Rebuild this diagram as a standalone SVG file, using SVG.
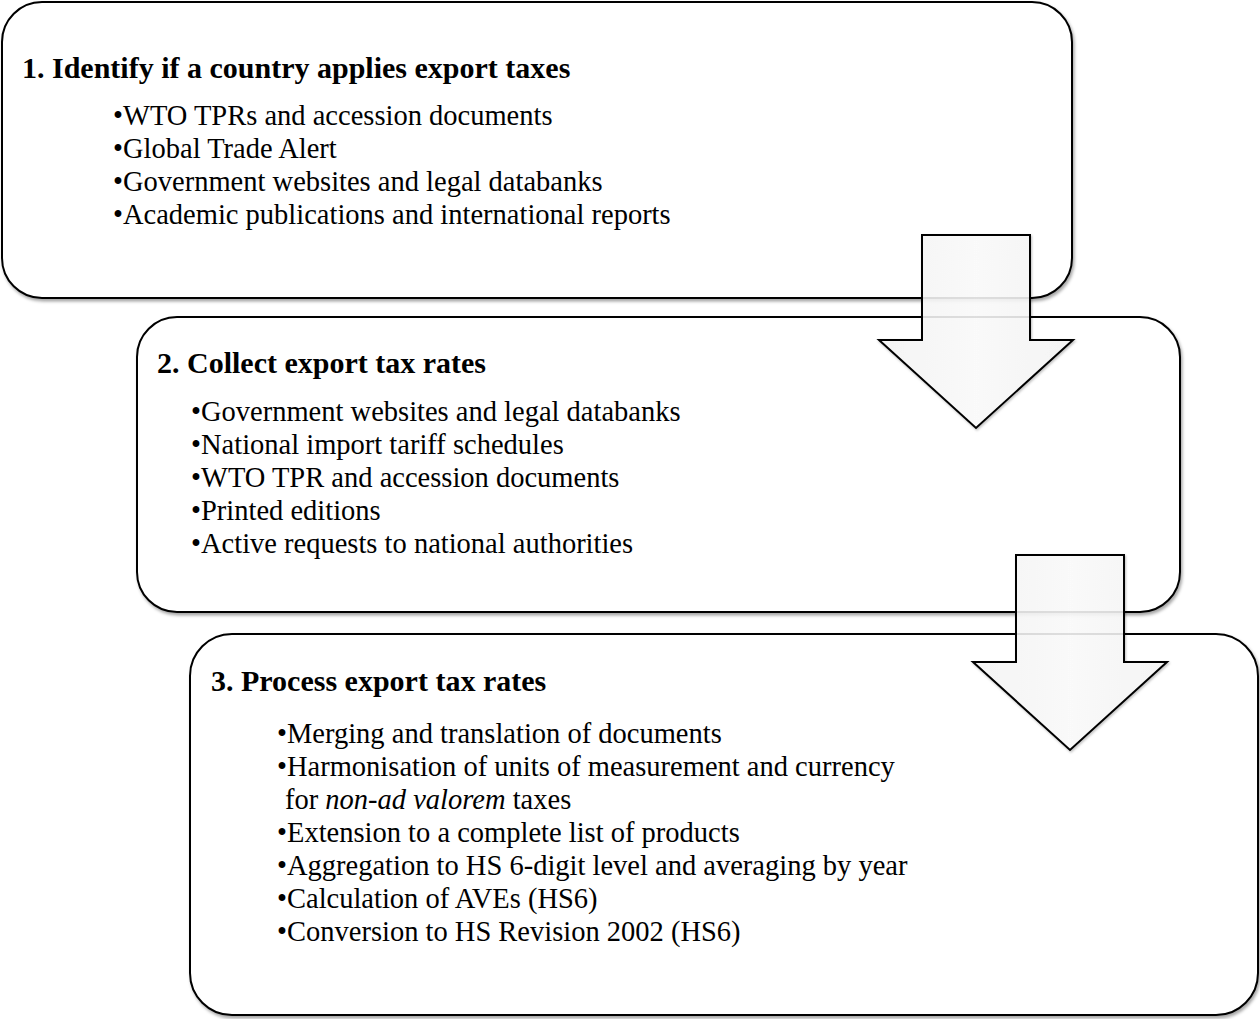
<svg xmlns="http://www.w3.org/2000/svg" width="1260" height="1019" viewBox="0 0 1260 1019">
<style>
.box{fill:#fff;stroke:#000;stroke-width:2;filter:url(#sh)}
.arrow{fill:url(#ag);fill-opacity:0.86;stroke:#000;stroke-width:2;stroke-linejoin:miter;filter:url(#sh2)}
.t{font-family:"Liberation Serif","Times New Roman",serif;font-weight:bold;font-size:30px;fill:#000}
.b{font-family:"Liberation Serif","Times New Roman",serif;font-size:28.5px;fill:#000}
</style>
<defs>
<filter id="sh" x="-5%" y="-5%" width="110%" height="115%">
<feDropShadow dx="1.5" dy="2.5" stdDeviation="1.8" flood-color="#000" flood-opacity="0.35"/>
</filter>
<filter id="sh2" x="-10%" y="-10%" width="120%" height="120%">
<feDropShadow dx="1" dy="1.5" stdDeviation="1.2" flood-color="#000" flood-opacity="0.25"/>
</filter>
<linearGradient id="ag" x1="0" y1="0" x2="1" y2="0">
<stop offset="0" stop-color="#f6f6f6"/>
<stop offset="0.5" stop-color="#fdfdfd"/>
<stop offset="1" stop-color="#f6f6f6"/>
</linearGradient>
</defs>
<g id="node1">
<rect class="box" x="2" y="2" width="1070" height="296" rx="40" ry="40"/>
<text class="t" x="22" y="78">1. Identify if a country applies export taxes</text>
<text class="b" x="113" y="125">•WTO TPRs and accession documents</text>
<text class="b" x="113" y="158">•Global Trade Alert</text>
<text class="b" x="113" y="191">•Government websites and legal databanks</text>
<text class="b" x="113" y="224">•Academic publications and international reports</text>
</g>
<g id="node2">
<rect class="box" x="137" y="317" width="1043" height="295" rx="40" ry="40"/>
<text class="t" x="157" y="373">2. Collect export tax rates</text>
<text class="b" x="191" y="421">•Government websites and legal databanks</text>
<text class="b" x="191" y="454">•National import tariff schedules</text>
<text class="b" x="191" y="487">•WTO TPR and accession documents</text>
<text class="b" x="191" y="520">•Printed editions</text>
<text class="b" x="191" y="553">•Active requests to national authorities</text>
</g>
<g id="node3">
<rect class="box" x="190" y="634" width="1068" height="381" rx="42" ry="42"/>
<text class="t" x="211" y="691">3. Process export tax rates</text>
<text class="b" x="277" y="743">•Merging and translation of documents</text>
<text class="b" x="277" y="776">•Harmonisation of units of measurement and currency</text>
<text class="b" x="285" y="809">for <tspan font-style="italic">non-ad valorem</tspan> taxes</text>
<text class="b" x="277" y="842">•Extension to a complete list of products</text>
<text class="b" x="277" y="875">•Aggregation to HS 6-digit level and averaging by year</text>
<text class="b" x="277" y="908">•Calculation of AVEs (HS6)</text>
<text class="b" x="277" y="941">•Conversion to HS Revision 2002 (HS6)</text>
</g>
<g id="connectors">
<polygon id="arrow1" class="arrow" points="922,235 1030,235 1030,340 1073,340 976,428 879,340 922,340"/>
<polygon id="arrow2" class="arrow" points="1016,555 1124,555 1124,662 1167,662 1070,750 973,662 1016,662"/>
</g>
</svg>
